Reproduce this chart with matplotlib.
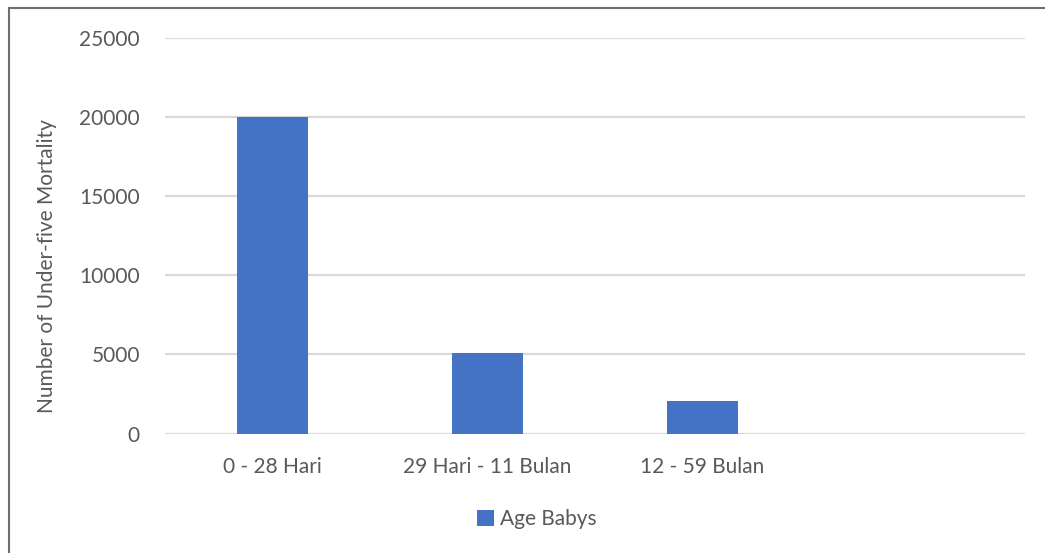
import matplotlib
matplotlib.use("Agg")
import matplotlib.pyplot as plt
from matplotlib.lines import Line2D

categories = ["0 - 28 Hari", "29 Hari - 11 Bulan", "12 - 59 Bulan", ""]
values = [20030, 5060, 2055, 0]
series_name = "Age Babys"
yticks = [0, 5000, 10000, 15000, 20000, 25000]

plt.rcParams['font.family'] = ['Lato', 'DejaVu Sans']
text_color = "#595959"
bar_color = "#4472C4"
grid_color = "#D9D9D9"

W, H = 1045, 553
ax_left, ax_right, ax_top, ax_bot = 165, 1025, 38, 433.5
fig = plt.figure(figsize=(W / 100, H / 100), dpi=100)
ax = fig.add_axes([ax_left / W, 1 - ax_bot / H, (ax_right - ax_left) / W, (ax_bot - ax_top) / H])

x = list(range(len(categories)))
bars = ax.bar(x[:3], values[:3], width=0.326, color=bar_color, label=series_name, zorder=3)

ax.set_xlim(-0.5, len(categories) - 0.5)
ax.set_ylim(0, 25000)
ax.set_yticks(yticks)
ax.set_yticklabels([str(t) for t in yticks])
ax.set_xticks(x)
ax.set_xticklabels(categories)

for s in ax.spines.values():
    s.set_visible(False)
ax.yaxis.grid(True, color=grid_color, linewidth=1.6, zorder=0)
ax.set_axisbelow(True)
ax.tick_params(axis='both', length=0, colors=text_color, labelsize=15)
ax.tick_params(axis='y', pad=18)
ax.tick_params(axis='x', pad=17)

ax.set_ylabel("Number of Under-five Mortality", color=text_color, fontsize=15)
ax.yaxis.set_label_coords((57 - ax_left) / (ax_right - ax_left), (ax_bot - 266) / (ax_bot - ax_top))

fig.legend(handles=[bars], labels=[series_name], loc='center',
           bbox_to_anchor=(537 / W, 1 - 519 / H), frameon=False,
           fontsize=15, labelcolor=text_color, handlelength=0.8,
           handleheight=0.8, handletextpad=0.3)

# outer chart frame
fig.add_artist(Line2D([9 / W, 1.0], [1 - 7.5 / H, 1 - 7.5 / H], transform=fig.transFigure,
                      color="#6E6E6E", linewidth=1.5))
fig.add_artist(Line2D([9 / W, 9 / W], [0.0, 1 - 7.5 / H], transform=fig.transFigure,
                      color="#6E6E6E", linewidth=1.5))

fig.savefig("out.png", dpi=100, facecolor="white")
